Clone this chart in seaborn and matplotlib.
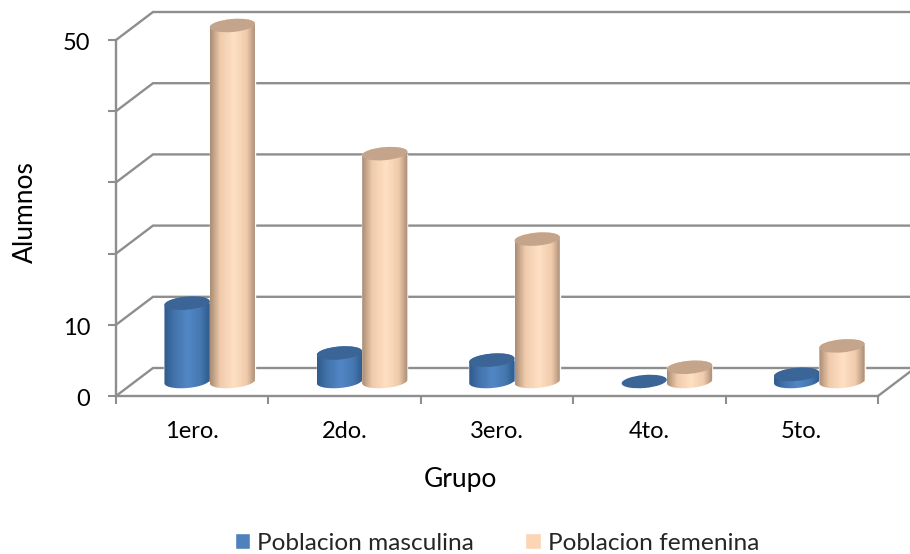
import numpy as np
import pandas as pd
import matplotlib
matplotlib.use("Agg")
import matplotlib.pyplot as plt
import seaborn as sns
from matplotlib.path import Path
from matplotlib.patches import Ellipse
from matplotlib.transforms import Affine2D, IdentityTransform

grupos = ["1ero.", "2do.", "3ero.", "4to.", "5to."]
masculina = [11, 4, 3, 0, 1]
femenina = [50, 32, 20, 2, 5]
serie_m = "Poblacion masculina"
serie_f = "Poblacion femenina"
y_ticks = [0, 10, 20, 30, 40, 50]
y_labels = ["0", "10", "", "", "", "50"]

W, H = 910, 554
GRID = "#8e8e8e"
COL_M = "#4f81bd"
COL_F = "#fcd5b5"
TOP_M = "#3a6596"
TOP_F = "#c4a58b"
STOPS = [0, .22, .52, .8, 1]
EDGE_M = ["#2f5a8c", "#4373ab", "#5287c6", "#4577b0", "#2f5a8c"]
EDGE_F = ["#a88c74", "#f0cbac", "#ffe0c3", "#f0cbac", "#a88c74"]

sns.set_theme(style="white")
plt.rcParams["font.family"] = ["Lato", "DejaVu Sans"]

df = pd.DataFrame({
    "Grupo": grupos * 2,
    "Alumnos": masculina + femenina,
    "Serie": [serie_m] * len(grupos) + [serie_f] * len(grupos),
})

fig = plt.figure(figsize=(W / 100, H / 100), dpi=100)
ax = fig.add_axes([116 / W, 1 - 396 / H, (878 - 116) / W, (396 - 40) / H])
sns.barplot(data=df, x="Grupo", y="Alumnos", hue="Serie", ax=ax, width=0.595, gap=0,
            palette=[COL_M, COL_F], saturation=1, errorbar=None, zorder=3)
ax.set_xlim(-0.5, len(grupos) - 0.5)
ax.set_ylim(0, 50)

# walls: depth of the 3-D box, in pixels
DX, DY = 37, 28
to_px = ax.transData.transform
for v in y_ticks:
    p0 = to_px((-0.5, v))
    p1 = p0 + (DX, DY)
    p2 = to_px((len(grupos) - 0.5, v)) + (DX, DY)
    ax.plot([p0[0], p1[0], p2[0]], [p0[1], p1[1], p2[1]], color=GRID, lw=1.7,
            transform=IdentityTransform(), clip_on=False, zorder=1, solid_joinstyle="miter")
pr = to_px((len(grupos) - 0.5, 0))
ax.plot([pr[0], pr[0] + DX], [pr[1], pr[1] + DY], color=GRID, lw=1.7,
        transform=IdentityTransform(), clip_on=False, zorder=1)

# cylinders, built on the bars that seaborn placed
BAR_DX, BAR_DY = 17.5, 14.5
EH, TILT = 13.0, np.deg2rad(5)
shift = Affine2D().translate(BAR_DX, BAR_DY)
z = 3.0


def arc(cx, cy, a, start, stop):
    t = np.linspace(start, stop, 40)
    x, y = a * np.cos(t), EH / 2 * np.sin(t)
    return np.c_[cx + x * np.cos(TILT) - y * np.sin(TILT),
                 cy + x * np.sin(TILT) + y * np.cos(TILT)]


for cont, stops, top in zip(ax.containers, [EDGE_M, EDGE_F], [TOP_M, TOP_F]):
    cmap = matplotlib.colors.LinearSegmentedColormap.from_list("c", list(zip(STOPS, stops)))
    for rect in cont:
        rect.set_transform(ax.transData + shift)
        rect.set_clip_on(False)
        x0, w, h = rect.get_x(), rect.get_width(), rect.get_height()
        l, b = to_px((x0, 0)) + (BAR_DX, BAR_DY)
        r, t = to_px((x0 + w, h)) + (BAR_DX, BAR_DY)
        cx, a = (l + r) / 2, (r - l) / 2
        z += 0.1
        if h > 0:
            poly = np.vstack([arc(cx, b, a, np.pi, 2 * np.pi), arc(cx, t, a, 0, np.pi)])
            im = ax.imshow(np.linspace(0, 1, 128)[None, :], cmap=cmap, aspect="auto", vmin=0, vmax=1,
                           extent=[l, r, b - 12, t + 12], transform=IdentityTransform(),
                           interpolation="bilinear", zorder=z)
            im.set_clip_box(fig.bbox)
            im.set_clip_path(Path(np.vstack([poly, poly[0]]), closed=True), IdentityTransform())
        ax.add_patch(Ellipse((cx, t), 2 * a, EH, angle=np.rad2deg(TILT), facecolor=top, edgecolor="none",
                             transform=IdentityTransform(), clip_on=False, zorder=z + 0.05))
ax.set_xlim(-0.5, len(grupos) - 0.5)
ax.set_ylim(0, 50)

# axes
for s in ["top", "right"]:
    ax.spines[s].set_visible(False)
for s in ["left", "bottom"]:
    ax.spines[s].set_color(GRID)
    ax.spines[s].set_linewidth(1.7)
    ax.spines[s].set_zorder(1)
ax.set_yticks(y_ticks, y_labels)
ax.tick_params(axis="y", which="major", left=True, length=5.5, width=1.5, color=GRID, labelsize=17,
               labelcolor="black", pad=13)
ax.set_xticks(np.arange(-0.5, len(grupos)), minor=True)
ax.tick_params(axis="x", which="minor", bottom=True, length=5.5, width=1.5, color=GRID)
ax.tick_params(axis="x", which="major", bottom=False, labelsize=17, labelcolor="black", pad=12)
for lab in ax.get_yticklabels():
    lab.set_transform(lab.get_transform() + Affine2D().translate(0, -2))
ax.set_xlabel("Grupo", fontsize=19, color="black")
ax.set_ylabel("Alumnos", fontsize=19, color="black")
ax.xaxis.set_label_coords((460 - 116) / (878 - 116), (396 - 480) / (396 - 40), transform=ax.transAxes)
ax.xaxis.label.set_va("center")
ax.yaxis.set_label_coords((25 - 116) / (878 - 116), (396 - 212) / (396 - 40), transform=ax.transAxes)
ax.yaxis.label.set_va("center")

handles, labels = ax.get_legend_handles_labels()
ax.legend(handles, labels, loc="center", bbox_to_anchor=(497 / W, 1 - 543 / H),
          bbox_transform=fig.transFigure, ncol=2, frameon=False, fontsize=17.6,
          handlelength=0.62, handleheight=0.62, handletextpad=0.3, columnspacing=2.1,
          borderpad=0, title=None)

fig.savefig("out.png", dpi=100, facecolor="white")
